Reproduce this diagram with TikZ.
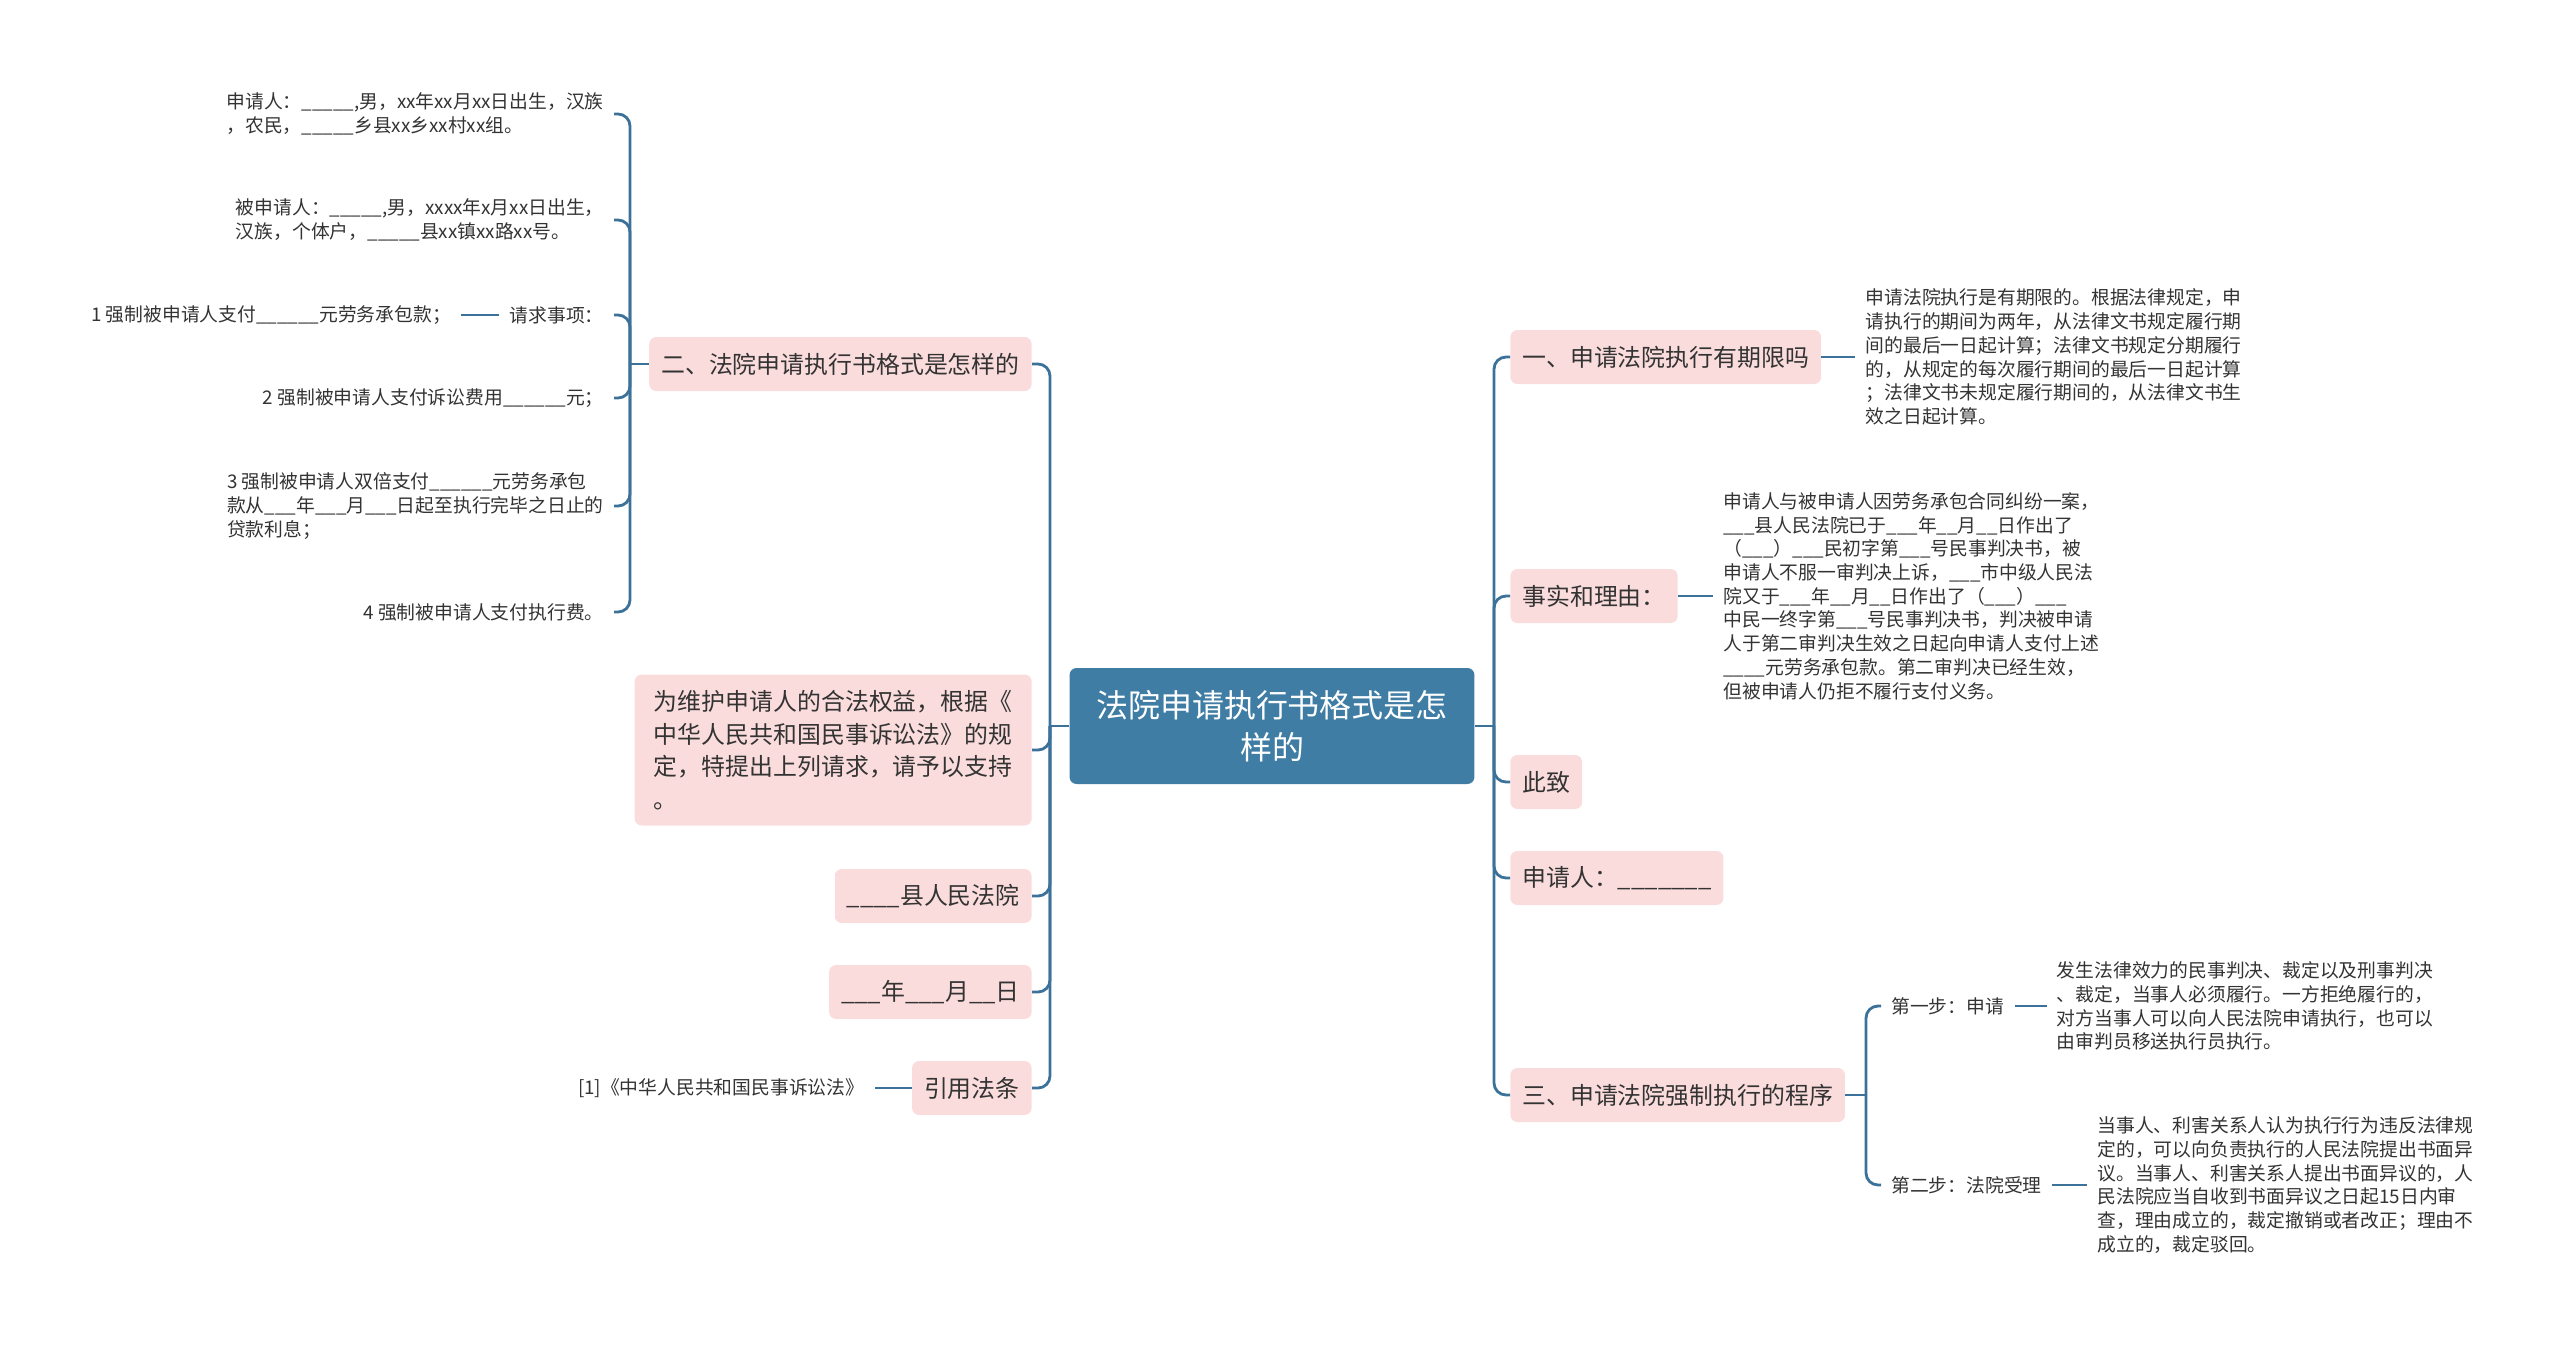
\documentclass[tikz,border=0pt]{standalone}
\usepackage{fontspec}
\setmainfont{Noto Sans CJK SC}
\usepackage{xcolor}
\usetikzlibrary{positioning}
\definecolor{rootblue}{HTML}{3F7DA5}
\definecolor{topicpink}{HTML}{FADCDC}
\definecolor{linkblue}{HTML}{3C7199}
\definecolor{inkgray}{HTML}{333333}

\begin{document}
\begin{tikzpicture}[x=0.02cm, y=-0.02cm,
    rootbox/.style={rectangle, fill=rootblue, rounded corners=4pt, text=white,
                    minimum width=8.1cm, minimum height=2.32cm, align=center,
                    font=\fontsize{18.2}{24}\selectfont},
    topic/.style={rectangle, fill=topicpink, rounded corners=4pt, text=inkgray,
                  inner xsep=0.24cm, minimum height=1.08cm, align=left,
                  font=\fontsize{13.6}{18.6}\selectfont},
    leaf/.style={inner xsep=0.2cm, inner ysep=0.04cm, align=left, text=inkgray,
                 font=\fontsize{10.7}{13.5}\selectfont},
    link/.style={draw=linkblue, line width=1.6pt, rounded corners=0.24cm}
]
\useasboundingbox (0,0) rectangle (2560,1347);

\node[rootbox] (root) at (1272,726) {法院申请执行书格式是怎\\样的};

\node[topic, anchor=west] (r1) at (1510,357) {一、申请法院执行有期限吗};
\node[topic, anchor=west] (r2) at (1510,596) {事实和理由：};
\node[topic, anchor=west] (r3) at (1510,782) {此致};
\node[topic, anchor=west] (r4) at (1510,878) {申请人：\_\_\_\_\_\_\_};
\node[topic, anchor=west] (r5) at (1510,1095) {三、申请法院强制执行的程序};

\node[leaf, right=0.68cm of r1] (r1t)
    {申请法院执行是有期限的。根据法律规定，申\\
     请执行的期间为两年，从法律文书规定履行期\\
     间的最后一日起计算；法律文书规定分期履行\\
     的，从规定的每次履行期间的最后一日起计算\\
     ；法律文书未规定履行期间的，从法律文书生\\
     效之日起计算。};
\node[leaf, right=0.7cm of r2] (r2t)
    {申请人与被申请人因劳务承包合同纠纷一案，\\
     \_\_\_县人民法院已于\_\_\_年\_\_月\_\_日作出了\\
     （\_\_\_）\_\_\_民初字第\_\_\_号民事判决书，被\\
     申请人不服一审判决上诉，\_\_\_市中级人民法\\
     院又于\_\_\_年\_\_月\_\_日作出了（\_\_\_）\_\_\_\\
     中民一终字第\_\_\_号民事判决书，判决被申请\\
     人于第二审判决生效之日起向申请人支付上述\\
     \_\_\_\_元劳务承包款。第二审判决已经生效，\\
     但被申请人仍拒不履行支付义务。};

\node[leaf, anchor=west] (s1) at (1881,1006) {第一步：申请};
\node[leaf, anchor=west] (s2) at (1881,1185) {第二步：法院受理};
\node[leaf, right=0.64cm of s1] (s1t)
    {发生法律效力的民事判决、裁定以及刑事判决\\
     、裁定，当事人必须履行。一方拒绝履行的，\\
     对方当事人可以向人民法院申请执行，也可以\\
     由审判员移送执行员执行。};
\node[leaf, right=0.7cm of s2] (s2t)
    {当事人、利害关系人认为执行行为违反法律规\\
     定的，可以向负责执行的人民法院提出书面异\\
     议。当事人、利害关系人提出书面异议的，人\\
     民法院应当自收到书面异议之日起15日内审\\
     查，理由成立的，裁定撤销或者改正；理由不\\
     成立的，裁定驳回。};

\node[topic, anchor=east] (l1) at (1032,364) {二、法院申请执行书格式是怎样的};
\node[topic, anchor=east, minimum width=7.94cm, minimum height=3.02cm] (l2) at (1032,750)
    {为维护申请人的合法权益，根据《\\
     中华人民共和国民事诉讼法》的规\\
     定，特提出上列请求，请予以支持\\
     。};
\node[topic, anchor=east] (l3) at (1032,896) {\_\_\_\_县人民法院};
\node[topic, anchor=east] (l4) at (1032,992) {\_\_\_年\_\_\_月\_\_日};
\node[topic, anchor=east] (l5) at (1032,1088) {引用法条};
\node[leaf, left=0.74cm of l5] (l5t) {[1]《中华人民共和国民事诉讼法》};

\node[leaf, anchor=east] (la) at (614,114)
    {申请人：\_\_\_\_\_,男，xx年xx月xx日出生，汉族\\
     ，农民，\_\_\_\_\_乡县xx乡xx村xx组。};
\node[leaf, anchor=east] (lb) at (614,220)
    {被申请人：\_\_\_\_\_,男，xxxx年x月xx日出生，\\
     汉族，个体户，\_\_\_\_\_县xx镇xx路xx号。};
\node[leaf, anchor=east] (lc) at (614,315) {请求事项：};
\node[leaf, left=0.76cm of lc] (lc1) {1 强制被申请人支付\_\_\_\_\_\_元劳务承包款；};
\node[leaf, anchor=east] (ld) at (614,398) {2 强制被申请人支付诉讼费用\_\_\_\_\_\_元；};
\node[leaf, anchor=east] (le) at (614,506)
    {3 强制被申请人双倍支付\_\_\_\_\_\_元劳务承包\\
     款从\_\_\_年\_\_\_月\_\_\_日起至执行完毕之日止的\\
     贷款利息；};
\node[leaf, anchor=east] (lf) at (614,612) {4 强制被申请人支付执行费。};

\coordinate (rj) at (1494,726);
\coordinate (lj) at (1050,726);
\coordinate (sj) at (1866,1095);
\coordinate (kj) at (630,364);

\draw[link] (root.east) -- (rj);
\draw[link] (rj) |- (r1.west);
\draw[link] (rj) |- (r2.west);
\draw[link] (rj) |- (r3.west);
\draw[link] (rj) |- (r4.west);
\draw[link] (rj) |- (r5.west);
\draw[link] (r1.east) -- (r1t.west);
\draw[link] (r2.east) -- (r2t.west);
\draw[link] (r5.east) -- (sj);
\draw[link] (sj) |- (s1.west);
\draw[link] (sj) |- (s2.west);
\draw[link] (s1.east) -- (s1t.west);
\draw[link] (s2.east) -- (s2t.west);

\draw[link] (root.west) -- (lj);
\draw[link] (lj) |- (l1.east);
\draw[link] (lj) |- (l2.east);
\draw[link] (lj) |- (l3.east);
\draw[link] (lj) |- (l4.east);
\draw[link] (lj) |- (l5.east);
\draw[link] (l5.west) -- (l5t.east);
\draw[link] (l1.west) -- (kj);
\draw[link] (kj) |- (la.east);
\draw[link] (kj) |- (lb.east);
\draw[link] (kj) |- (lc.east);
\draw[link] (kj) |- (ld.east);
\draw[link] (kj) |- (le.east);
\draw[link] (kj) |- (lf.east);
\draw[link] (lc.west) -- (lc1.east);

\end{tikzpicture}
\end{document}
